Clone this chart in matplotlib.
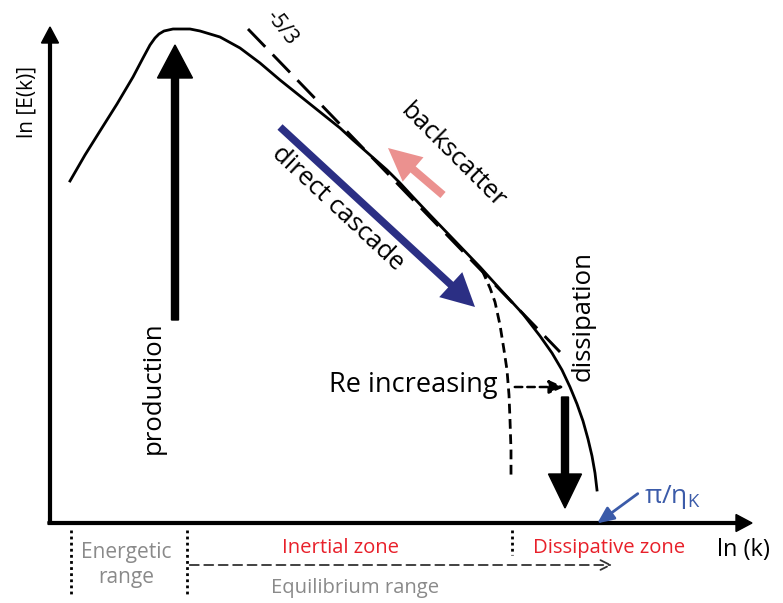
import matplotlib.pyplot as plt
import numpy as np

plt.rcParams['font.family'] = ['Open Sans', 'DejaVu Sans']

# energy spectrum sketch (pixel coords, y down)
spec_x = [70, 85, 100, 117, 133, 143, 150, 155, 159, 164, 173, 190, 200, 220,
          240, 260, 280, 300, 320, 340, 353, 370, 387, 400, 413, 430, 455, 480,
          490, 500, 523, 540, 552, 562, 570, 577, 583, 588, 592, 595, 597]
spec_y = [181, 155, 131, 104, 77, 58, 45, 38, 34, 31, 29, 29, 31, 37,
          48, 63, 80, 96, 112, 128, 140, 155, 170, 183, 197, 215, 241, 267,
          278, 289, 314, 336, 353, 370, 387, 404, 421, 439, 456, 473, 490]

# lower-Re spectrum (dashed cut-off)
low_re_x = [482, 490, 495, 500, 504, 507, 509, 510, 511, 511]
low_re_y = [270, 288, 302, 325, 350, 370, 395, 420, 450, 480]

# -5/3 slope line
slope_x = [248, 560]
slope_y = [29, 352]

# range boundaries on the k axis
bounds_x = [71, 187, 512]
bounds_bottom = [597, 597, 555]

fig = plt.figure(figsize=(7.83, 6.03), dpi=100)
ax = fig.add_axes([0, 0, 1, 1])
ax.set_xlim(0, 783)
ax.set_ylim(603, 0)
ax.axis('off')

# axes with arrow heads
ax.arrow(50, 523, 0, -496, width=2.8, head_width=17, head_length=16,
         length_includes_head=True, color='black')
ax.arrow(48, 523, 704, 0, width=2.8, head_width=17, head_length=16,
         length_includes_head=True, color='black')

ax.plot(spec_x, spec_y, color='black', lw=2.0, solid_joinstyle='round')
ax.plot(low_re_x, low_re_y, color='black', lw=2.0, linestyle=(0, (3.5, 2)))
ax.plot(slope_x, slope_y, color='black', lw=2.1, linestyle=(0, (8.5, 3.7)))

# production / dissipation arrows
ax.arrow(175, 320, 0, -275, width=7, head_width=35, head_length=33,
         length_includes_head=True, color='black')
ax.arrow(565, 397, 0, 111, width=7, head_width=33, head_length=34,
         length_includes_head=True, color='black')

# cascade and backscatter
ax.arrow(280, 127, 195, 180, width=7.5, head_width=34, head_length=33,
         length_includes_head=True, color='#2b2f84', lw=0)
ax.arrow(443, 195, -55, -47, width=8, head_width=32, head_length=33,
         length_includes_head=True, color='#eb918f', lw=0)

# Re increasing arrow
ax.annotate('', xy=(567, 387), xytext=(512, 387),
            arrowprops=dict(arrowstyle='-|>,head_length=0.9,head_width=0.4',
                            color='black', lw=1.8, linestyle=(0, (3, 2))))
# pi/eta_K pointer
ax.annotate('', xy=(595, 525), xytext=(640, 492),
            arrowprops=dict(arrowstyle='-|>,head_length=1.0,head_width=0.45',
                            color='#3b5ba9', lw=2))

# range boundaries and equilibrium arrow
for bx, bb in zip(bounds_x, bounds_bottom):
    ax.plot([bx, bx], [530, bb], color='black', lw=2.0, linestyle=(0, (1, 1.2)))
ax.annotate('', xy=(615, 565), xytext=(187, 565),
            arrowprops=dict(arrowstyle='->,head_length=0.7,head_width=0.35',
                            color='#333333', lw=1.3, linestyle=(0, (5, 3))))

# labels
ax.text(27, 102, 'ln [E(k)]', rotation=90, ha='center', va='center', fontsize=15)
ax.text(743, 550, 'ln (k)', ha='center', va='center', fontsize=17)
ax.text(281, 28, '-5/3', rotation=-52, ha='center', va='center', fontsize=15,
        rotation_mode='anchor')
ax.text(338, 208, 'direct cascade', rotation=-43, ha='center', va='center',
        fontsize=18.5, rotation_mode='anchor')
ax.text(453, 156, 'backscatter', rotation=-45, ha='center', va='center',
        fontsize=18.5, rotation_mode='anchor')
ax.text(583, 316, 'dissipation', rotation=90, ha='center', va='center', fontsize=18.5)
ax.text(153, 388, 'production', rotation=90, ha='center', va='center', fontsize=18.5)
ax.text(413, 385, 'Re increasing', ha='center', va='center', fontsize=19.5)
ax.text(672, 497, r'$\mathregular{\pi/\eta_K}$', ha='center', va='center',
        fontsize=19, color='#3b5ba9')

ax.text(126, 565, 'Energetic\nrange', ha='center', va='center', fontsize=15,
        color='#8a8a8a', linespacing=1.25)
ax.text(340, 548, 'Inertial zone', ha='center', va='center', fontsize=14.6,
        color='#e8202a')
ax.text(609, 548, 'Dissipative zone', ha='center', va='center', fontsize=14.6,
        color='#e8202a')
ax.text(355, 588, 'Equilibrium range', ha='center', va='center', fontsize=14.6,
        color='#8a8a8a')

fig.savefig('out.png', dpi=100)
